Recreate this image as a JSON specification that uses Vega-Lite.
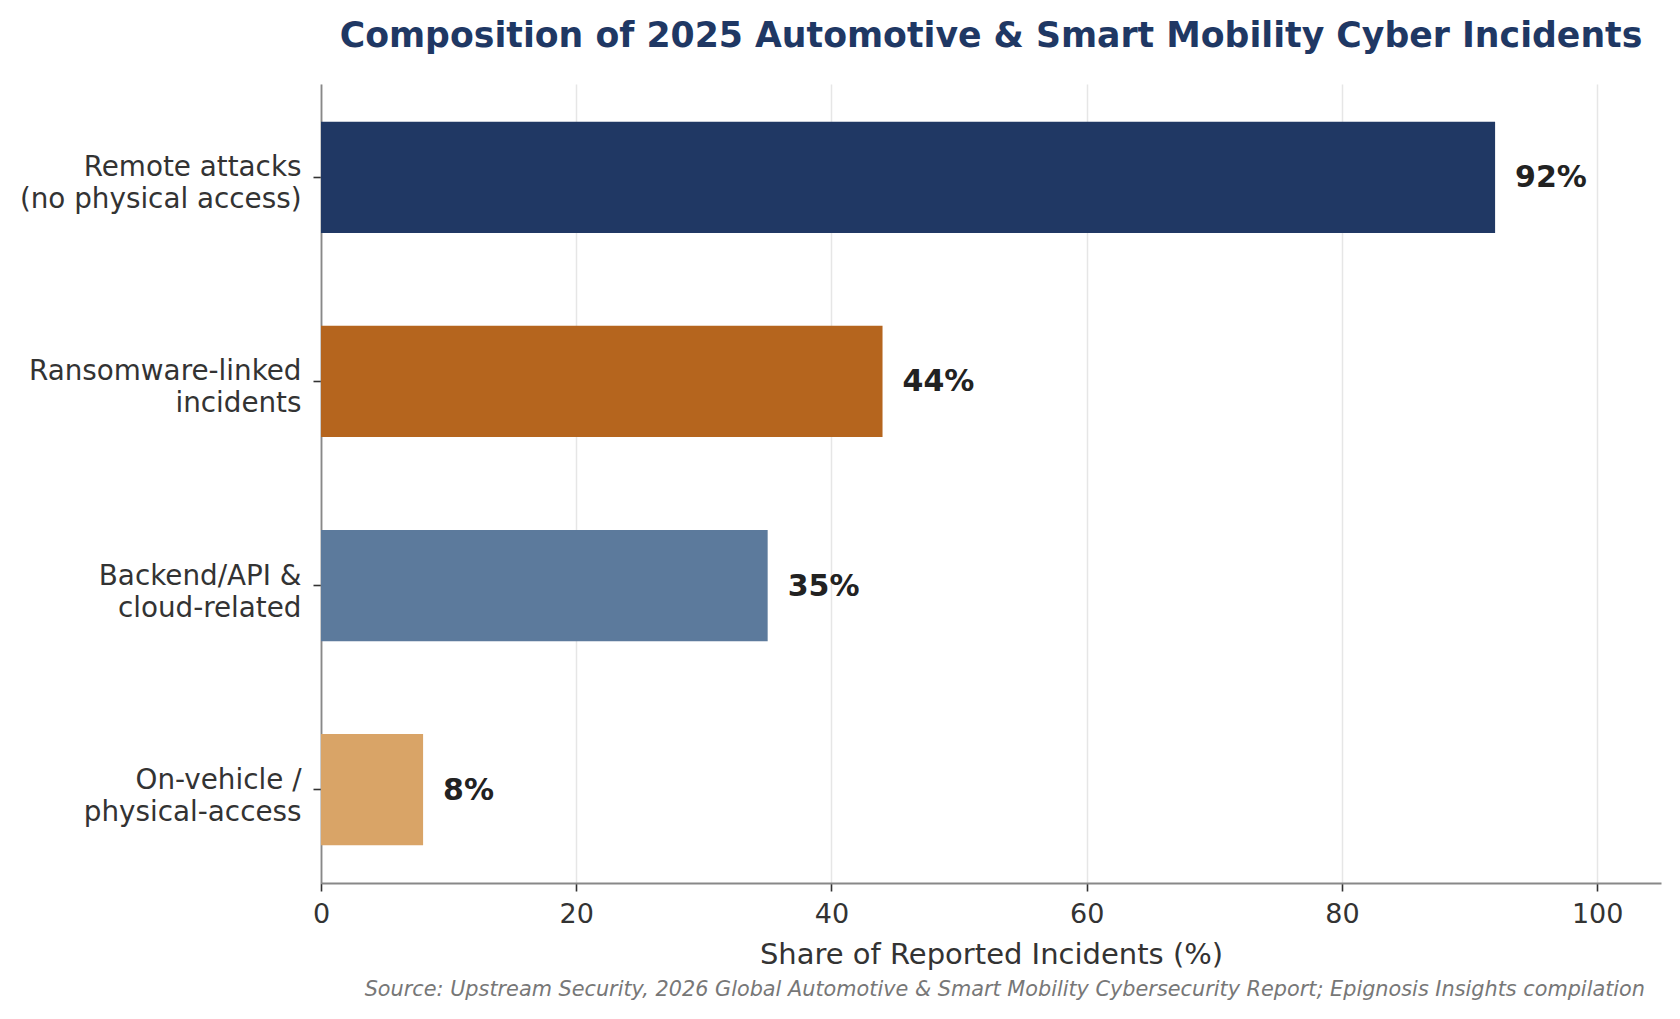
{
  "$schema": "https://vega.github.io/schema/vega-lite/v6.json",
  "width": 1340,
  "height": 799,
  "autosize": {"type": "none"},
  "padding": {"left": 321, "top": 84, "right": 19, "bottom": 136},
  "background": "white",
  "title": {
    "text": "Composition of 2025 Automotive & Smart Mobility Cyber Incidents",
    "font": "DejaVu Sans",
    "fontSize": 34.7,
    "fontWeight": "bold",
    "color": "#1f3864",
    "anchor": "middle",
    "baseline": "alphabetic",
    "offset": 2
  },
  "config": {
    "view": {"stroke": null},
    "font": "DejaVu Sans",
    "axis": {
      "labelFont": "DejaVu Sans",
      "titleFont": "DejaVu Sans",
      "labelColor": "#333333",
      "titleColor": "#333333",
      "domainColor": "#888888",
      "domainWidth": 1.8,
      "tickColor": "#333333",
      "tickWidth": 1.6,
      "tickSize": 8
    }
  },
  "datasets": {
    "incidents": [
      {"category": "Remote attacks\n(no physical access)", "share": 92, "label": "92%"},
      {"category": "Ransomware-linked\nincidents", "share": 44, "label": "44%"},
      {"category": "Backend/API &\ncloud-related", "share": 35, "label": "35%"},
      {"category": "On-vehicle /\nphysical-access", "share": 8, "label": "8%"}
    ],
    "notes": [
      {"note": "Source: Upstream Security, 2026 Global Automotive & Smart Mobility Cybersecurity Report; Epignosis Insights compilation", "pos": 105}
    ]
  },
  "layer": [
    {
      "data": {"name": "incidents"},
      "mark": {"type": "bar"},
      "encoding": {
        "y": {
          "field": "category",
          "type": "nominal",
          "sort": null,
          "scale": {"paddingInner": 0.455, "paddingOuter": 0.185},
          "axis": {
            "title": null,
            "labelExpr": "split(datum.label, '\\n')",
            "labelFontSize": 27.8,
            "labelLineHeight": 32,
            "labelPadding": 12,
            "labelLimit": 500,
            "labelAlign": "right",
            "labelBaseline": "middle",
            "labelOffset": -9,
            "grid": false
          }
        },
        "x": {
          "field": "share",
          "type": "quantitative",
          "scale": {"domain": [0, 105], "nice": false},
          "axis": {
            "title": "Share of Reported Incidents (%)",
            "titleFontSize": 29,
            "titleFontWeight": "normal",
            "titlePadding": 13,
            "values": [0, 20, 40, 60, 80, 100],
            "labelFontSize": 27,
            "labelPadding": 10,
            "labelFlush": false,
            "grid": true,
            "gridColor": "#e6e6e6",
            "gridWidth": 1.5
          }
        },
        "color": {
          "field": "category",
          "type": "nominal",
          "legend": null,
          "scale": {
            "domain": [
              "Remote attacks\n(no physical access)",
              "Ransomware-linked\nincidents",
              "Backend/API &\ncloud-related",
              "On-vehicle /\nphysical-access"
            ],
            "range": ["#203864", "#b5651e", "#5c7a9c", "#d9a467"]
          }
        }
      }
    },
    {
      "data": {"name": "incidents"},
      "mark": {
        "type": "text",
        "align": "left",
        "baseline": "middle",
        "dx": 20,
        "dy": 1,
        "font": "DejaVu Sans",
        "fontSize": 30,
        "fontWeight": "bold",
        "color": "#222222"
      },
      "encoding": {
        "y": {"field": "category", "type": "nominal", "sort": null},
        "x": {"field": "share", "type": "quantitative"},
        "text": {"field": "label"}
      }
    },
    {
      "data": {"name": "notes"},
      "mark": {
        "type": "text",
        "align": "right",
        "baseline": "alphabetic",
        "dx": -16,
        "font": "DejaVu Sans",
        "fontSize": 20.8,
        "fontStyle": "italic",
        "color": "#777777"
      },
      "encoding": {
        "x": {"field": "pos", "type": "quantitative"},
        "y": {"value": 912},
        "text": {"field": "note"}
      }
    }
  ]
}
